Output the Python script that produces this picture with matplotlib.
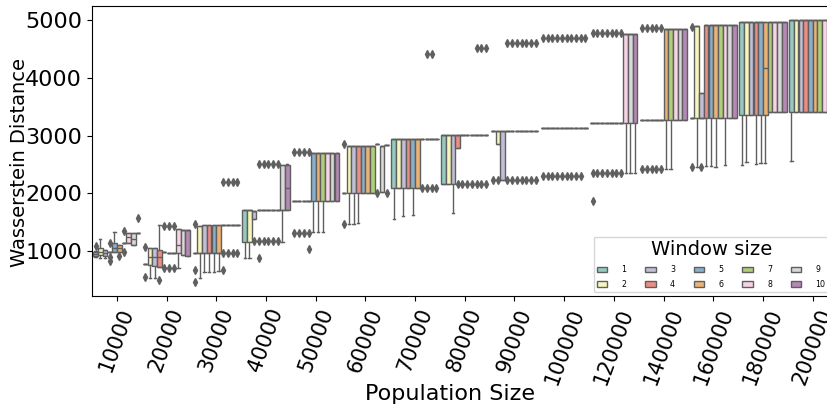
import matplotlib
matplotlib.use('Agg')
import matplotlib.pyplot as plt
from matplotlib.patches import Patch
import seaborn as sns

# population sizes on the x axis, window sizes as hue
pop_sizes = ['10000', '20000', '30000', '40000', '50000', '60000', '70000', '80000',
             '90000', '100000', '120000', '140000', '160000', '180000', '200000']
windows = ['1', '2', '3', '4', '5', '6', '7', '8', '9', '10']

# box statistics, one row per population size, one column per window
q1 = [
    [915, 930, 912, 990, 986, 986, 1130, 1130, 1100, 1305],
    [770, 760, 740, 716, 975, 970, 965, 960, 930, 912],
    [960, 960, 960, 960, 960, 960, 1450, 1450, 1450, 1450],
    [1160, 1160, 1548, 1709, 1709, 1709, 1709, 1709, 1709, 1709],
    [1860, 1860, 1860, 1860, 1870, 1870, 1870, 1870, 1870, 1870],
    [2000, 2000, 2000, 2000, 2000, 2000, 2000, 2850, 2020, 2840],
    [2095, 2095, 2095, 2095, 2095, 2095, 2945, 2945, 2945, 2945],
    [2160, 2160, 2160, 2777, 3008, 3008, 3008, 3008, 3008, 3008],
    [3077, 2847, 2228, 3077, 3077, 3077, 3077, 3077, 3077, 3077],
    [3130, 3130, 3130, 3130, 3130, 3130, 3130, 3130, 3130, 3130],
    [3210, 3210, 3210, 3210, 3210, 3210, 3210, 3210, 3210, 3210],
    [3270, 3270, 3270, 3270, 3270, 3270, 3270, 3270, 3270, 3270],
    [3308, 3308, 3308, 3308, 3308, 3308, 3308, 3308, 3308, 3308],
    [3354, 3354, 3354, 3354, 3354, 3354, 3400, 3400, 3400, 3400],
    [3412, 3412, 3412, 3412, 3412, 3412, 3412, 3412, 3440, 3412],
]
med = [
    [950, 985, 960, 990, 1060, 1050, 1130, 1250, 1200, 1305],
    [770, 900, 900, 900, 975, 970, 965, 1100, 1362, 1362],
    [960, 960, 960, 960, 960, 960, 1450, 1450, 1450, 1450],
    [1709, 1709, 1690, 1709, 1709, 1709, 1709, 1709, 1709, 2085],
    [1860, 1860, 1860, 1860, 2700, 2700, 2700, 2700, 2700, 2700],
    [2000, 2817, 2817, 2817, 2817, 2817, 2817, 2850, 2817, 2840],
    [2938, 2938, 2938, 2938, 2938, 2938, 2945, 2945, 2945, 2945],
    [3008, 3008, 3008, 3008, 3008, 3008, 3008, 3008, 3008, 3008],
    [3077, 3077, 3077, 3077, 3077, 3077, 3077, 3077, 3077, 3077],
    [3130, 3130, 3130, 3130, 3130, 3130, 3130, 3130, 3130, 3130],
    [3210, 3210, 3210, 3210, 3210, 3210, 3210, 4757, 4757, 4757],
    [3270, 3270, 3270, 3270, 3270, 4838, 4838, 4838, 4838, 4838],
    [3308, 4890, 3308, 4910, 4910, 4910, 4910, 4910, 4910, 4910],
    [4960, 4960, 4960, 4960, 4960, 4163, 4960, 4960, 4960, 4960],
    [5000, 5000, 5000, 5000, 5000, 5000, 5000, 5000, 3440, 5000],
]
q3 = [
    [985, 1045, 1015, 990, 1140, 1110, 1130, 1315, 1305, 1305],
    [770, 1045, 1050, 1016, 975, 970, 965, 1380, 1362, 1362],
    [960, 1432, 1449, 1449, 1449, 1449, 1450, 1450, 1450, 1450],
    [1709, 1709, 1690, 1709, 1709, 1709, 1709, 1709, 2488, 2488],
    [1860, 1860, 1860, 1860, 2700, 2700, 2700, 2700, 2700, 2700],
    [2000, 2817, 2817, 2817, 2817, 2817, 2817, 2850, 2817, 2840],
    [2938, 2938, 2938, 2938, 2938, 2938, 2945, 2945, 2945, 2945],
    [3008, 3008, 3008, 3008, 3008, 3008, 3008, 3008, 3008, 3008],
    [3077, 3077, 3077, 3077, 3077, 3077, 3077, 3077, 3077, 3077],
    [3130, 3130, 3130, 3130, 3130, 3130, 3130, 3130, 3130, 3130],
    [3210, 3210, 3210, 3210, 3210, 3210, 3210, 4757, 4757, 4757],
    [3270, 3270, 3270, 3270, 3270, 4838, 4838, 4838, 4838, 4838],
    [3308, 4890, 3730, 4910, 4910, 4910, 4910, 4910, 4910, 4910],
    [4960, 4960, 4960, 4960, 4960, 4960, 4960, 4960, 4960, 4960],
    [5000, 5000, 5000, 5000, 5000, 5000, 5000, 5000, 3440, 5000],
]
whislo = [
    [900, 870, 870, 990, 986, 986, 1130, 1130, 1100, 1305],
    [770, 530, 530, 716, 975, 970, 965, 700, 930, 912],
    [960, 530, 640, 640, 640, 660, 1450, 1450, 1450, 1450],
    [870, 870, 1548, 1709, 1709, 1709, 1709, 1709, 1160, 1709],
    [1860, 1860, 1860, 1860, 1330, 1330, 1330, 1870, 1870, 1870],
    [2000, 1460, 1460, 1480, 2000, 2000, 2000, 2850, 2020, 2840],
    [1548, 2095, 1605, 2095, 1622, 2095, 2945, 2945, 2945, 2945],
    [2160, 2160, 1662, 2777, 3008, 3008, 3008, 3008, 3008, 3008],
    [3077, 2847, 2228, 3077, 3077, 3077, 3077, 3077, 3077, 3077],
    [3130, 3130, 3130, 3130, 3130, 3130, 3130, 3130, 3130, 3130],
    [3210, 3210, 3210, 3210, 3210, 3210, 3210, 2355, 2355, 2355],
    [3270, 3270, 3270, 3270, 3270, 2414, 2414, 3270, 3270, 3270],
    [3308, 2459, 3308, 2480, 2480, 2460, 3308, 2488, 3308, 3308],
    [2488, 2535, 3354, 2500, 2520, 2520, 3400, 3400, 3400, 3400],
    [2563, 3412, 3412, 3412, 3412, 3412, 3412, 3412, 3440, 3412],
]
whishi = [
    [1000, 1200, 1015, 990, 1330, 1110, 1130, 1315, 1305, 1305],
    [770, 1045, 1050, 1450, 975, 970, 965, 1380, 1362, 1362],
    [960, 1432, 1449, 1449, 1449, 1449, 1450, 1450, 1450, 1450],
    [1709, 1709, 1690, 1709, 1709, 1709, 1709, 1709, 2488, 2500],
    [1860, 1860, 1860, 1860, 2700, 2700, 2700, 2700, 2700, 2700],
    [2000, 2817, 2817, 2817, 2817, 2817, 2817, 2850, 2817, 2840],
    [2938, 2938, 2938, 2938, 2938, 2938, 2945, 2945, 2945, 2945],
    [3008, 3008, 3008, 3008, 3008, 3008, 3008, 3008, 3008, 3008],
    [3077, 3077, 3077, 3077, 3077, 3077, 3077, 3077, 3077, 3077],
    [3130, 3130, 3130, 3130, 3130, 3130, 3130, 3130, 3130, 3130],
    [3210, 3210, 3210, 3210, 3210, 3210, 3210, 4757, 4757, 4757],
    [3270, 3270, 3270, 3270, 3270, 4838, 4838, 4838, 4838, 4838],
    [3308, 4890, 3730, 4910, 4910, 4910, 4910, 4910, 4910, 4910],
    [4960, 4960, 4960, 4960, 4960, 4960, 4960, 4960, 4960, 4960],
    [5000, 5000, 5000, 5000, 5000, 5000, 5000, 5000, 3440, 5000],
]
fliers = [
    [[1080], [], [], [1140, 890, 830], [], [910], [1350, 990], [], [], [1565]],
    [[1073, 554], [], [], [497], [1430, 700], [1430, 700], [1430, 700], [], [], []],
    [[1466, 670, 467], [], [], [], [], [], [970, 2200, 670], [970, 2200], [970, 2200], [970, 2200]],
    [[], [], [1170], [1170, 870, 2500], [1170, 2500], [1170, 2500], [1170, 2500], [1170, 2500], [], []],
    [[2719, 1316], [2719, 1316], [2719, 1316], [2719, 1316, 1028], [], [], [], [], [], []],
    [[2850, 1460], [], [], [], [], [], [], [2010], [], [2010]],
    [[], [], [], [], [], [], [2100], [2100, 4420], [2100, 4420], [2100]],
    [[], [], [], [2160], [2160], [2160], [2160], [2160, 4510], [2160, 4510], [2160, 4510]],
    [[2228], [2228], [], [2228, 4607], [2228, 4607], [2228, 4607], [2228, 4607], [2228, 4607],
     [2228, 4607], [2228, 4607]],
    [[2303, 4683], [2303, 4683], [2303, 4683], [2303, 4683], [2303, 4683], [2303, 4683],
     [2303, 4683], [2303, 4683], [2303, 4683], [4683]],
    [[4769, 2355, 1870], [4769, 2355], [4769, 2355], [4769, 2355], [4769, 2355], [4769, 2355],
     [4769, 2355], [], [], []],
    [[4856, 2414], [4856, 2414], [4856, 2414], [4856, 2414], [4856, 2414], [], [], [], [], []],
    [[4880, 2460], [], [2460], [], [], [], [], [], [], []],
    [[], [], [], [], [], [], [], [], [], []],
    [[], [], [], [], [], [], [], [], [5000], []],
]

colors = sns.color_palette('Set3', len(windows), desat=0.75)
gray = '#5f5f5f'
step = 0.095

fig = plt.figure(figsize=(8.28, 4.09), dpi=100)
ax = fig.add_axes([0.1111, 0.2763, 0.9004, 0.709])

for k, w in enumerate(windows):
    stats = []
    for g in range(len(pop_sizes)):
        stats.append(dict(q1=q1[g][k], med=med[g][k], q3=q3[g][k],
                          whislo=whislo[g][k], whishi=whishi[g][k], fliers=fliers[g][k]))
    pos = [g + (k - 4.5) * step for g in range(len(pop_sizes))]
    ax.bxp(stats, positions=pos, widths=step * 0.98, capwidths=step * 0.49,
           patch_artist=True, manage_ticks=False,
           boxprops=dict(facecolor=colors[k], edgecolor=gray, linewidth=1.0),
           medianprops=dict(color=gray, linewidth=1.0),
           whiskerprops=dict(color=gray, linewidth=1.0),
           capprops=dict(color=gray, linewidth=1.0),
           flierprops=dict(marker='d', markerfacecolor=gray, markeredgecolor=gray,
                           markersize=4, linestyle='none'))

ax.set_xlim(-0.5, len(pop_sizes) - 0.5)
ax.set_ylim(220, 5245)
ax.set_xticks(range(len(pop_sizes)))
ax.set_xticklabels(pop_sizes, rotation=70, fontsize=15)
ax.set_yticks([1000, 2000, 3000, 4000, 5000])
ax.tick_params(axis='y', labelsize=16)
ax.set_xlabel('Population Size', fontsize=16)
ax.set_ylabel('Wasserstein Distance', fontsize=14)
ax.xaxis.set_label_coords(0.48, -0.305)
ax.yaxis.set_label_coords(-0.085, 0.46)

handles = [Patch(facecolor=colors[k], edgecolor=gray, linewidth=1.0, label=w)
           for k, w in enumerate(windows)]
ax.legend(handles=handles, title='Window size', ncol=5, loc='lower right',
          bbox_to_anchor=(0.9935, 0.0),
          fontsize=5.7, title_fontsize=14, handlelength=1.3, handleheight=0.65,
          handletextpad=1.8, columnspacing=2.4, labelspacing=0.75)

fig.savefig('out.png', dpi=100)
